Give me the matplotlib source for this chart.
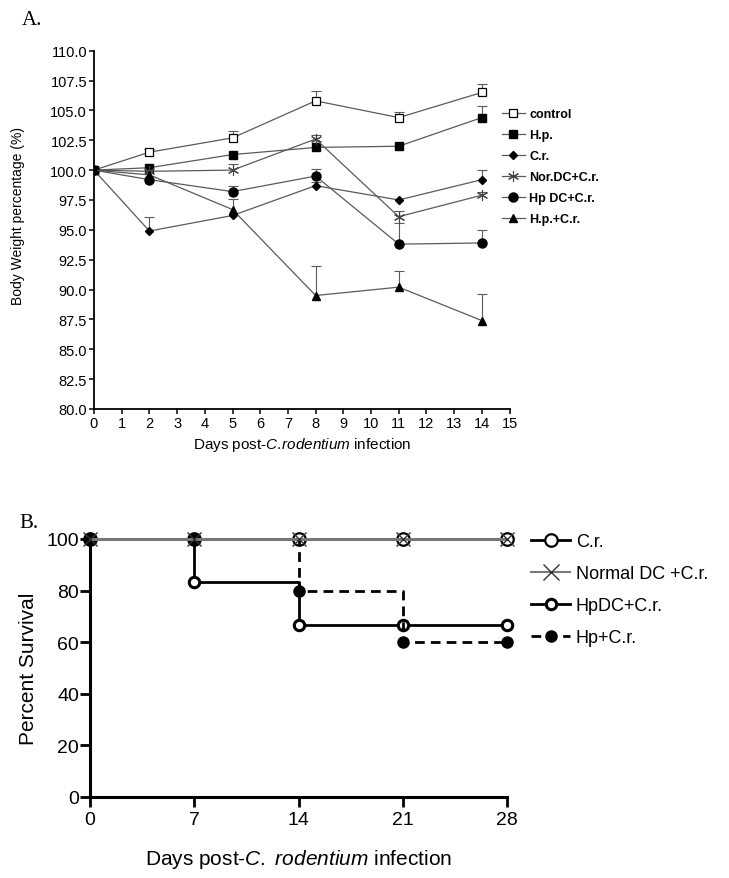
import matplotlib
matplotlib.use("Agg")
import matplotlib.pyplot as plt
from matplotlib.lines import Line2D
import numpy as np

plt.rcParams['font.family'] = ['Liberation Sans', 'DejaVu Sans']
plt.rcParams['mathtext.fontset'] = 'custom'
plt.rcParams['mathtext.rm'] = 'Liberation Sans'
plt.rcParams['mathtext.it'] = 'Liberation Sans:italic'

# ---------------- Panel A data ----------------
days = [0, 2, 5, 8, 11, 14]
group_names = ["control", "H.p.", "C.r.", "Nor.DC+C.r.", "Hp DC+C.r.", "H.p.+C.r."]
control = [100.0, 101.5, 102.7, 105.8, 104.4, 106.5]
control_err = [0.0, 0.3, 0.6, 0.8, 0.5, 0.7]
hp = [100.0, 100.2, 101.3, 101.9, 102.0, 104.4]
hp_err = [0.0, 0.0, 0.0, 0.0, 0.0, 1.0]
cr = [100.0, 94.9, 96.2, 98.7, 97.5, 99.2]
cr_err = [0.0, 1.15, 0.0, 0.3, 0.0, 0.85]
nordc = [100.0, 99.9, 100.0, 102.6, 96.1, 97.9]
nordc_err = [0.0, 0.0, 0.55, 0.35, 0.45, 0.3]
hpdc = [100.0, 99.2, 98.2, 99.5, 93.8, 93.9]
hpdc_err = [0.0, 0.0, 0.5, 0.6, 1.75, 1.1]
hpcr = [100.0, 99.6, 96.7, 89.5, 90.2, 87.4]
hpcr_err = [0.0, 0.0, 0.9, 2.45, 1.35, 2.25]

# ---------------- Panel B data ----------------
surv_days = [0, 7, 14, 21, 28]
surv_names = ["C.r.", "Normal DC +C.r.", "HpDC+C.r.", "Hp+C.r."]
surv_cr = [100, 100, 100, 100, 100]
surv_nordc = [100, 100, 100, 100, 100]
surv_hpdc = [100, 83.3, 66.7, 66.7, 66.7]
surv_hp = [100, 100, 80, 60, 60]

fig = plt.figure(figsize=(7.29, 8.79), dpi=100)

# ================= Panel A =================
axA = fig.add_axes([0.1289, 0.5336, 0.5701, 0.4076])
gray = '#5a5a5a'
styles = [
    dict(marker='s', mfc='white', mec='black', ms=6, mew=0.9),
    dict(marker='s', mfc='black', mec='black', ms=6),
    dict(marker='D', mfc='black', mec='black', ms=3.8),
    dict(marker=(6, 2, 0), mfc='none', mec='#444444', ms=8, mew=0.8),
    dict(marker='o', mfc='black', mec='black', ms=6.5),
    dict(marker='^', mfc='black', mec='black', ms=6),
]
series = [control, hp, cr, nordc, hpdc, hpcr]
errs = [control_err, hp_err, cr_err, nordc_err, hpdc_err, hpcr_err]
handles = []
for vals, err, st, name in zip(series, errs, styles, group_names):
    vals = np.array(vals)
    err = np.array(err)
    mask = err > 0
    if mask.any():
        eb = axA.errorbar(np.array(days)[mask], vals[mask],
                          yerr=[np.zeros(mask.sum()), err[mask]],
                          fmt='none', ecolor=gray, elinewidth=0.8,
                          capsize=3.5, capthick=0.8, zorder=2)
        for cl in eb[1]:
            if np.allclose(cl.get_ydata(), vals[mask]):
                cl.set_visible(False)
    axA.plot(days, vals, color=gray, lw=0.9, zorder=3, **st)
    handles.append(Line2D([0], [0], color=gray, lw=0.9, **st))

axA.set_xlim(0, 15)
axA.set_ylim(80, 110)
axA.set_xticks(range(0, 16))
yt = np.arange(80, 110.01, 2.5)
axA.set_yticks(yt)
axA.set_yticklabels([f"{v:.1f}" for v in yt])
for s in ['top', 'right']:
    axA.spines[s].set_visible(False)
for s in ['left', 'bottom']:
    axA.spines[s].set_linewidth(1.3)
axA.tick_params(axis='both', direction='out', length=3.5, width=1.1,
                labelsize=10.5, pad=1.5, colors='black')
axA.set_xlabel(r'Days post-$\mathit{C.\!rodentium}$ infection', fontsize=11, labelpad=4)
axA.set_ylabel('Body Weight percentage (%)', fontsize=10)
axA.yaxis.set_label_coords(-0.165, 0.54)

fig.legend(handles, group_names, loc='upper left',
           bbox_to_anchor=(0.688, 0.8755), frameon=False,
           prop={'weight': 'bold', 'size': 9}, handlelength=1.9,
           handletextpad=0.3, labelspacing=0.72, borderpad=0,
           borderaxespad=0)

fig.text(0.03, 0.977, 'A.', fontsize=15, family='Liberation Serif', va='center')

# ================= Panel B =================
axB = fig.add_axes([0.1235, 0.0922, 0.5720, 0.2935])

lw = 2.0
axB.step(surv_days, surv_cr, where='post', color='black', lw=lw, zorder=2,
         marker='o', mfc='white', mec='black', ms=9, mew=1.6, clip_on=False)
axB.step(surv_days, surv_hpdc, where='post', color='black', lw=lw, zorder=3,
         marker='o', mfc='white', mec='black', ms=7.5, mew=2.2, clip_on=False)
axB.step(surv_days, surv_hp, where='post', color='black', lw=lw, ls=(0, (3.5, 2.2)),
         zorder=4, marker='o', mfc='black', mec='black', ms=8, clip_on=False)
axB.step(surv_days, surv_nordc, where='post', color='#7a7a7a', lw=2.1, zorder=5,
         marker='x', mec='#333333', ms=10, mew=1.0, clip_on=False)

handlesB = [
    Line2D([0], [0], color='black', lw=lw, marker='o', mfc='white', mec='black', ms=9, mew=1.6),
    Line2D([0], [0], color='#7a7a7a', lw=1.5, marker='x', mec='#333333', ms=11, mew=1.0),
    Line2D([0], [0], color='black', lw=lw, marker='o', mfc='white', mec='black', ms=7.5, mew=2.2),
    Line2D([0], [0], color='black', lw=lw, ls=(0, (3.5, 2.2)), marker='o', mfc='black', mec='black', ms=8),
]
fig.legend(handlesB, surv_names, loc='upper left', bbox_to_anchor=(0.728, 0.392),
           frameon=False, fontsize=13, handlelength=2.2, handletextpad=0.3,
           labelspacing=0.82, borderpad=0, borderaxespad=0)

axB.set_xlim(0, 28)
axB.set_ylim(0, 100)
axB.set_xticks(surv_days)
axB.set_yticks([0, 20, 40, 60, 80, 100])
for s in ['top', 'right']:
    axB.spines[s].set_visible(False)
for s in ['left', 'bottom']:
    axB.spines[s].set_linewidth(2.2)
axB.tick_params(axis='both', direction='out', length=7, width=2, labelsize=14, colors='black')
axB.tick_params(axis='y', pad=1)
axB.tick_params(axis='x', pad=3)
axB.set_xlabel(r'Days post-$\mathit{C.\ rodentium}$ infection', fontsize=15, labelpad=14)
axB.set_ylabel('Percent Survival', fontsize=15, labelpad=6)

fig.text(0.027, 0.405, 'B.', fontsize=15, family='Liberation Serif', va='center')

fig.savefig('out.png', dpi=100)
